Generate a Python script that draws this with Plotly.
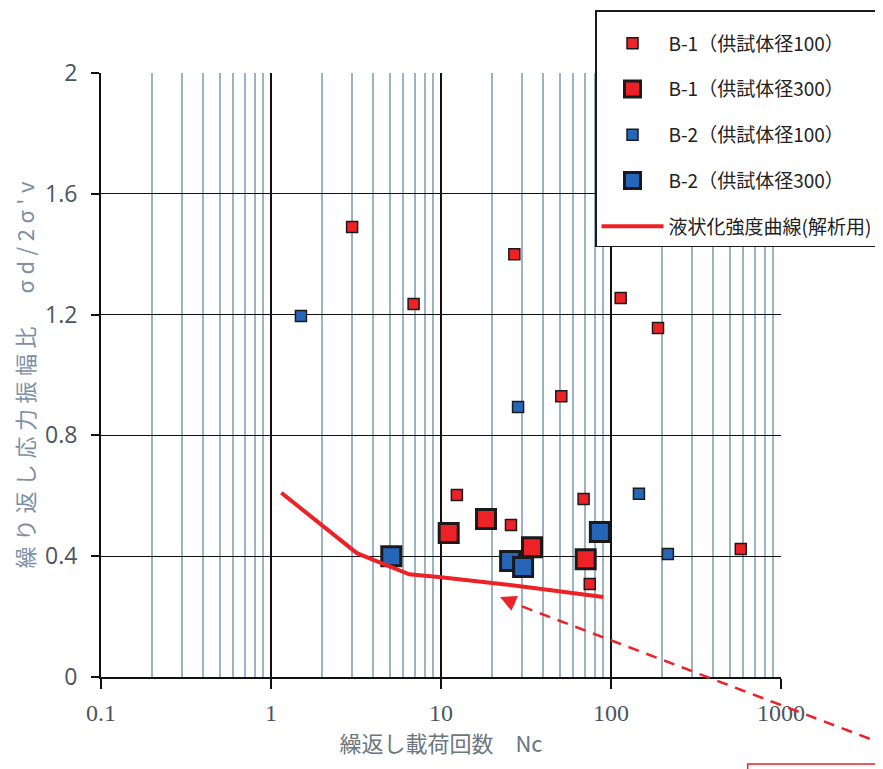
import plotly.graph_objects as go

# Data
b1_small_x = [3.0, 6.9, 27, 12.4, 25.8, 51, 69, 75, 114, 189, 580]
b1_small_y = [1.49, 1.235, 1.40, 0.603, 0.503, 0.93, 0.589, 0.308, 1.255, 1.156, 0.424]
b1_large_x = [11.1, 18.4, 34.3, 71]
b1_large_y = [0.477, 0.523, 0.43, 0.39]
b2_small_x = [1.5, 28.4, 146, 216]
b2_small_y = [1.195, 0.894, 0.607, 0.407]
b2_large_x = [5.1, 25.5, 30.4, 86]
b2_large_y = [0.40, 0.384, 0.364, 0.48]
curve_x = [1.15, 3.2, 6.5, 10, 30, 90]
curve_y = [0.61, 0.41, 0.34, 0.33, 0.30, 0.265]
x_tickvals = [0.1, 1, 10, 100, 1000]
x_ticktext = ["0.1", "1", "10", "100", "1000"]
y_tickvals = [0, 0.4, 0.8, 1.2, 1.6, 2]
y_ticktext = ["0", "0.4", "0.8", "1.2", "1.6", "2"]

RED = "#ec2227"
BLUE = "#2666b8"
JP = "Noto Sans CJK JP"
SP = "\u2005"

ytitle = "繰り返し応力振幅比　σd/2σ'v"
ytitle_spaced = SP.join(list(ytitle))

fig = go.Figure()
fig.add_trace(go.Scatter(x=b1_small_x, y=b1_small_y, mode="markers", name="B-1（供試体径100）",
                         legendgroup="a",
                         marker=dict(symbol="square", size=11, color=RED, line=dict(color="#1a1a1a", width=1.5))))
fig.add_trace(go.Scatter(x=b1_large_x, y=b1_large_y, mode="markers", name="B-1（供試体径300）",
                         legendgroup="b",
                         marker=dict(symbol="square", size=19, color=RED, line=dict(color="#1a1a1a", width=3))))
fig.add_trace(go.Scatter(x=b2_small_x, y=b2_small_y, mode="markers", name="B-2（供試体径100）",
                         legendgroup="c",
                         marker=dict(symbol="square", size=11, color=BLUE, line=dict(color="#1a1a1a", width=1.5))))
fig.add_trace(go.Scatter(x=b2_large_x, y=b2_large_y, mode="markers", name="B-2（供試体径300）",
                         legendgroup="d",
                         marker=dict(symbol="square", size=19, color=BLUE, line=dict(color="#1a1a1a", width=3))))
fig.add_trace(go.Scatter(x=curve_x, y=curve_y, mode="lines", name="液状化強度曲線(解析用)",
                         legendgroup="e",
                         line=dict(color=RED, width=4)))

# dashed pointer line (paper coords) and arrowhead
fig.add_shape(type="line", xref="paper", yref="paper", x0=0.593, y0=0.128, x1=1.16, y1=-0.115,
              line=dict(color=RED, width=2.5, dash="11px,8px"))
fig.add_annotation(x=1.347, y=0.265, xref="x", yref="y", text="", showarrow=True,
                   ax=16, ay=7, arrowhead=2, arrowsize=1.6, arrowwidth=2, arrowcolor=RED)
fig.add_shape(type="rect", xref="paper", yref="paper", x0=0.951, x1=1.4, y0=-0.144, y1=-0.4,
              line=dict(color=RED, width=1.5), fillcolor="rgba(0,0,0,0)")

fig.update_layout(
    width=920, height=769,
    margin=dict(l=93, r=147, t=65, b=100, autoexpand=False),
    paper_bgcolor="white", plot_bgcolor="white",
    font=dict(family=JP, color="#333"),
    showlegend=True,
    legend=dict(x=0.7265, y=1.1043, xanchor="left", yanchor="top",
                bgcolor="white", bordercolor="#1a1a1a", borderwidth=1.5,
                font=dict(family=JP, size=19, color="#222"),
                title=dict(text=" ", font=dict(size=10)),
                traceorder="grouped", tracegroupgap=18, itemwidth=62),
    xaxis=dict(type="log", range=[-1, 3], tickvals=x_tickvals, ticktext=x_ticktext,
               showgrid=True, gridcolor="#111", gridwidth=1.5,
               minor=dict(dtick="D1", showgrid=True, gridcolor="#9cb4c2", gridwidth=1.5, ticks=""),
               showline=True, linecolor="#111", linewidth=2,
               ticks="outside", ticklen=10, tickwidth=2, tickcolor="#111",
               ticklabelstandoff=3,
               tickfont=dict(family="Liberation Sans Narrow", size=24, color="#4a5560"),
               title=dict(text="繰返し載荷回数　Nc", font=dict(family=JP, size=22, color="#6b7680"), standoff=6),
               zeroline=False),
    yaxis=dict(range=[0, 2], tickvals=y_tickvals, ticktext=y_ticktext,
               showgrid=True, gridcolor="#111", gridwidth=1.3,
               showline=True, linecolor="#111", linewidth=2,
               ticks="outside", ticklen=8, tickwidth=1.5, tickcolor="#111",
               ticklabelstandoff=9,
               tickfont=dict(family="Open Sans", size=23, color="#4a5560"),
               title=dict(text=ytitle_spaced, font=dict(family=JP, size=22, color="#7d8fa6"), standoff=12),
               zeroline=False),
)

fig.write_html("out.html")
